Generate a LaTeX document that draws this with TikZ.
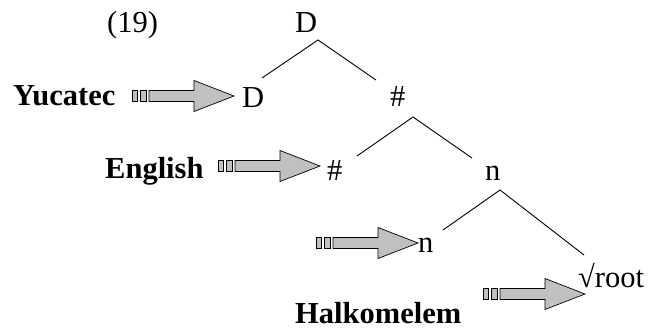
\documentclass[tikz,border=0pt]{standalone}
\usepackage{fontspec}
\setmainfont{Liberation Serif}
\definecolor{arrowgray}{HTML}{C0C0C0}
\tikzset{
  lbl/.style={inner sep=0pt, anchor=base west, font=\fontsize{30.5}{36}\selectfont},
  blbl/.style={lbl, font=\fontsize{30.5}{36}\selectfont\bfseries},
  branch/.style={draw=black, line width=0.9pt},
  arrowbody/.style={draw=black, fill=arrowgray, line width=0.7pt, line join=miter},
  fatarrow/.pic={
    \draw[arrowbody] (-102,-5.5) rectangle (-97,5.5);
    \draw[arrowbody] (-94,-5.5) rectangle (-88,5.5);
    \draw[arrowbody] (-85,-5.5) -- (-40,-5.5) -- (-40,-15.5) -- (0,0) -- (-40,15.5) -- (-40,5.5) -- (-85,5.5) -- cycle;
  }
}
\begin{document}
\begin{tikzpicture}[x=1pt, y={(0pt,-1pt)}]
\useasboundingbox (0,0) rectangle (650,327);
% labels
\node[lbl]  (num)  at (107,32)  {(19)};
\node[lbl]  (D0)   at (295,32)  {D};
\node[blbl] (yuc)  at (13,105)  {Yucatec};
\node[lbl]  (D1)   at (242,107) {D};
\node[lbl]  (H0)   at (390,106) {\#};
\node[blbl] (eng)  at (105,178) {English};
\node[lbl]  (H1)   at (327,180) {\#};
\node[lbl]  (N0)   at (485,180) {n};
\node[lbl]  (N1)   at (418,252) {n};
\node[lbl]  (root) at (578,287) {√root};
\node[blbl] (halk) at (295,323) {Halkomelem};
% tree branch points
\coordinate (aD)  at (318,40);
\coordinate (lD)  at (262,78);
\coordinate (rD)  at (376,80);
\coordinate (aH)  at (413,117);
\coordinate (lH)  at (357,156);
\coordinate (rH)  at (472,158);
\coordinate (aN)  at (500,190);
\coordinate (lN)  at (443,230);
\coordinate (rN)  at (584,255);
\draw[branch] (lD) -- (aD) -- (rD);
\draw[branch] (lH) -- (aH) -- (rH);
\draw[branch] (lN) -- (aN) -- (rN);
% arrows
\coordinate (tY) at (234,96);
\coordinate (tE) at (320,166);
\coordinate (tN) at (418,243);
\coordinate (tR) at (585,294);
\pic at (tY) {fatarrow};
\pic at (tE) {fatarrow};
\pic at (tN) {fatarrow};
\pic at (tR) {fatarrow};
\end{tikzpicture}
\end{document}
